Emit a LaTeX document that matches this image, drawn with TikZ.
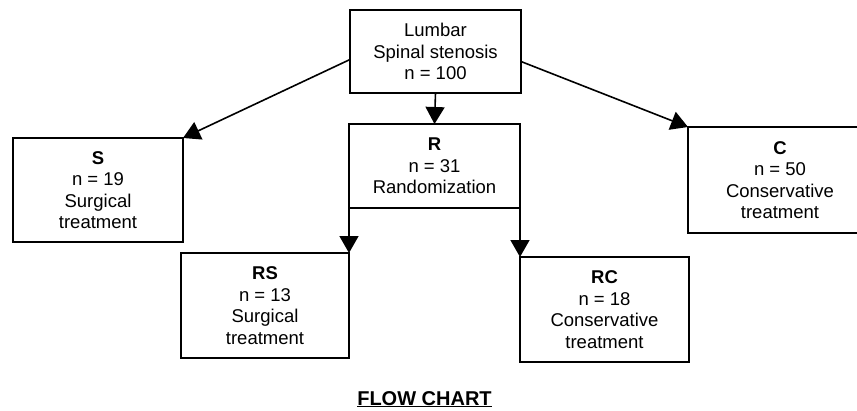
\documentclass[tikz,border=0pt]{standalone}
\usepackage{fontspec}
\setmainfont{Liberation Sans}
\usetikzlibrary{arrows.meta}

\begin{document}
\begin{tikzpicture}[x=1pt,y=-1pt,
        box/.style={draw,line width=1.6pt,align=center,inner sep=0pt,outer sep=0pt,font=\fontsize{18.5}{21.5}\selectfont},
        arr/.style={line width=1.6pt,-{Triangle[width=19pt,length=17pt]}}]
        \clip (0,0) rectangle (857,410);
        %% top box
        \node[box,minimum width=171pt,minimum height=83pt] (lss) at (435.5,51.5) {Lumbar\\Spinal stenosis\\n = 100};
        %% first level
        \node[box,minimum width=170pt,minimum height=104pt] (s) at (98,190) {\textbf{S}\\n = 19\\Surgical\\treatment};
        \node[box,minimum width=171pt,minimum height=84pt] (r) at (434.5,166) {\textbf{R}\\n = 31\\Randomization};
        \node[box,minimum width=184pt,minimum height=106pt] (c) at (780,180) {\textbf{C}\\n = 50\\Conservative\\treatment};
        %% second level
        \node[box,minimum width=168pt,minimum height=105pt] (rs) at (265,305.5) {\textbf{RS}\\n = 13\\Surgical\\treatment};
        \node[box,minimum width=169pt,minimum height=105pt] (rc) at (604.5,309.5) {\textbf{RC}\\n = 18\\Conservative\\treatment};
        %% arrows
        \draw[arr] (lss.south) -- (r.north);
        \draw[arr] ([yshift=-8pt]lss.west) -- (s.north east);
        \draw[arr] ([yshift=-10pt]lss.east) -- (c.north west);
        \draw[arr] (r.south west) -- (rs.north east);
        \draw[arr] (r.south east) -- (rc.north west);
        %% caption
        \node[anchor=base,font=\fontsize{20}{24}\selectfont\bfseries] (title) at (424.5,405) {\underline{FLOW CHART}};
    \end{tikzpicture}
\end{document}
